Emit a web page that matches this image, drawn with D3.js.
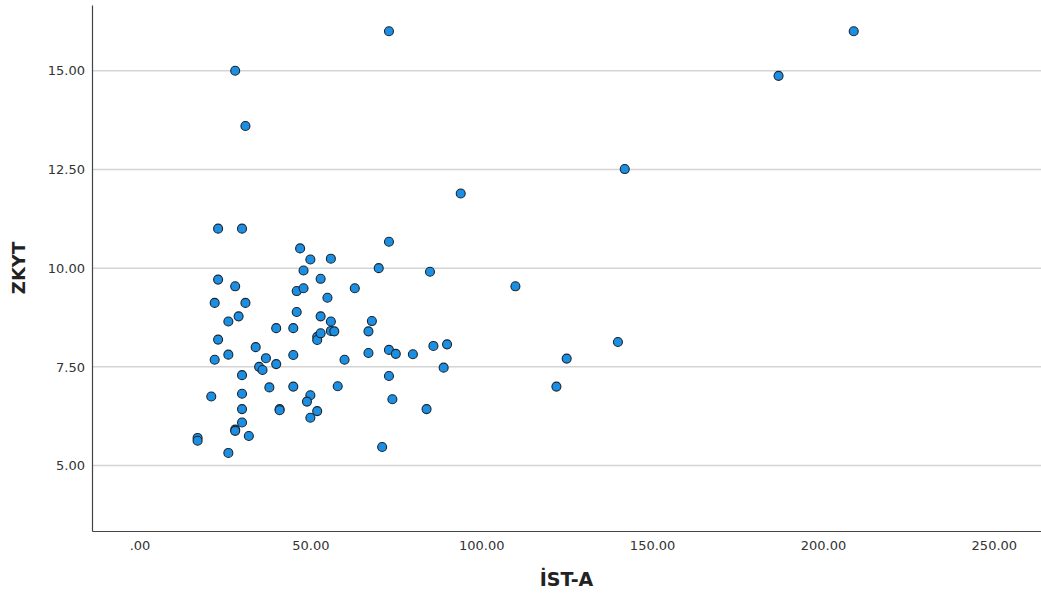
<!DOCTYPE html>
<html>
<head>
<meta charset="utf-8">
<script src="https://cdn.jsdelivr.net/npm/d3@7"></script>
<style>
  html, body { margin: 0; padding: 0; background: #fff; }
  svg { display: block; }
</style>
</head>
<body>
<svg id="chart" width="1041" height="596"></svg>
<script>
// İST-A (x) against ZKYT (y), one entry per case
const istA = [23, 30, 47, 50, 56, 73, 48, 70, 23, 28, 46, 48, 53, 63, 55, 22, 31, 29, 26, 46,
  53, 56, 68, 40, 45, 52, 52, 53, 56, 57, 67, 23, 34, 26, 22, 37, 45, 35, 36, 40,
  60, 67, 73, 75, 30, 73, 21, 30, 38, 45, 58, 50, 49, 74, 30, 41, 41, 52, 50, 30,
  28, 28, 32, 17, 17, 26, 71, 85, 86, 90, 80, 89, 84, 94, 110, 140, 125, 122, 142, 187,
  209, 73, 28, 31];
const zkyt = [11.0, 11.0, 10.50, 10.22, 10.24, 10.67, 9.94, 10.0, 9.71, 9.54, 9.42, 9.49, 9.73, 9.49, 9.25, 9.12, 9.12, 8.78, 8.65, 8.89,
  8.78, 8.65, 8.66, 8.48, 8.48, 8.26, 8.18, 8.35, 8.41, 8.40, 8.40, 8.19, 8.00, 7.81, 7.68, 7.72, 7.80, 7.50, 7.42, 7.57,
  7.68, 7.85, 7.93, 7.83, 7.29, 7.27, 6.75, 6.82, 6.98, 7.00, 7.01, 6.78, 6.62, 6.68, 6.43, 6.43, 6.40, 6.38, 6.21, 6.09,
  5.91, 5.88, 5.75, 5.70, 5.63, 5.32, 5.47, 9.91, 8.03, 8.07, 7.82, 7.48, 6.43, 11.89, 9.54, 8.13, 7.71, 7.00, 12.51, 14.87,
  16.0, 16.0, 15.0, 13.60];
const xTicks = [0, 50, 100, 150, 200, 250];
const yTicks = [5, 7.5, 10, 12.5, 15];
const xTitle = "İST-A";
const yTitle = "ZKYT";

const svg = d3.select("#chart");
const plot = { left: 92, right: 1041, top: 5, bottom: 531 };

const x = d3.scaleLinear().domain([-13.9, 263.8]).range([plot.left, plot.right]);
const y = d3.scaleLinear().domain([3.343, 16.665]).range([plot.bottom, plot.top]);

const fmt = v => d3.format(".2f")(v).replace(/^0\./, ".");

// horizontal gridlines
svg.append("g")
  .selectAll("line")
  .data(yTicks)
  .join("line")
  .attr("x1", plot.left).attr("x2", plot.right)
  .attr("y1", d => y(d)).attr("y2", d => y(d))
  .attr("stroke", "#d4d4d4")
  .attr("stroke-width", 1.5);

// axes
const xAxis = d3.axisBottom(x).tickValues(xTicks).tickFormat(fmt).tickSize(0).tickPadding(10);
const yAxis = d3.axisLeft(y).tickValues(yTicks).tickFormat(fmt).tickSize(0).tickPadding(7);

const gx = svg.append("g").attr("transform", `translate(0,${plot.bottom})`).call(xAxis);
const gy = svg.append("g").attr("transform", `translate(${plot.left},0)`).call(yAxis);

[gx, gy].forEach(g => {
  g.select(".domain").attr("stroke", "#444").attr("stroke-width", 1.2);
  g.selectAll("text")
    .attr("font-family", "DejaVu Sans, sans-serif")
    .attr("font-size", 13)
    .attr("fill", "#333");
});

// points
svg.append("g")
  .selectAll("circle")
  .data(d3.range(istA.length))
  .join("circle")
  .attr("cx", i => x(istA[i]))
  .attr("cy", i => y(zkyt[i]))
  .attr("r", 4.5)
  .attr("fill", "#1b8fe3")
  .attr("stroke", "#1c252d")
  .attr("stroke-width", 1.1);

// axis titles
svg.append("text")
  .attr("x", (plot.left + plot.right) / 2)
  .attr("y", 586)
  .attr("text-anchor", "middle")
  .attr("font-family", "DejaVu Sans, sans-serif")
  .attr("font-weight", "bold")
  .attr("font-size", 19)
  .attr("fill", "#222")
  .text(xTitle);

svg.append("text")
  .attr("transform", `translate(25,${(plot.top + plot.bottom) / 2}) rotate(-90)`)
  .attr("text-anchor", "middle")
  .attr("font-family", "DejaVu Sans, sans-serif")
  .attr("font-weight", "bold")
  .attr("font-size", 18)
  .attr("fill", "#222")
  .text(yTitle);
</script>
</body>
</html>
